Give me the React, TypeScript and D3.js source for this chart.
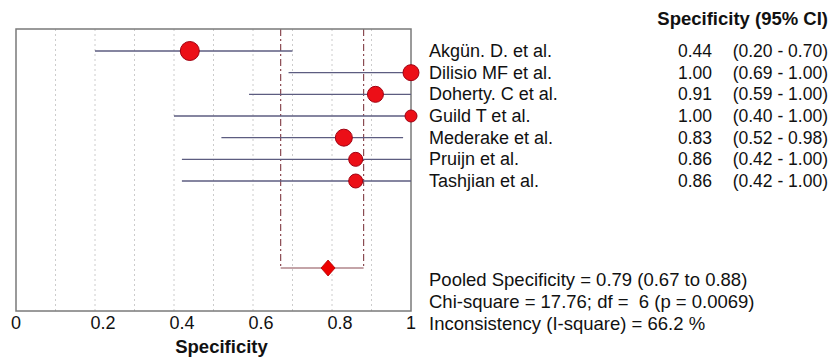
import React from 'react'
import * as d3 from 'd3'

const studies = ['Akgün. D. et al.', 'Dilisio MF et al.', 'Doherty. C et al.', 'Guild T et al.', 'Mederake et al.', 'Pruijn et al.', 'Tashjian et al.']
const estimates = [0.44, 1.0, 0.91, 1.0, 0.83, 0.86, 0.86]
const lowerCI = [0.2, 0.69, 0.59, 0.4, 0.52, 0.42, 0.42]
const upperCI = [0.7, 1.0, 1.0, 1.0, 0.98, 1.0, 1.0]
// marker size roughly tracks study weight
const weights = [9.5, 8, 8, 6, 8.5, 7, 7]
const pooled = { est: 0.79, lo: 0.67, hi: 0.88 }
const statLines = [
  'Pooled Specificity = 0.79 (0.67 to 0.88)',
  'Chi-square = 17.76; df =  6 (p = 0.0069)',
  'Inconsistency (I-square) = 66.2 %',
]
const tickValues = [0, 0.2, 0.4, 0.6, 0.8, 1]

const W = 834
const H = 359
const margin = { left: 16, top: 29, right: 423, bottom: 48 }
const font = 'Arial, "Liberation Sans", sans-serif'

export default function App() {
  const x = d3.scaleLinear().domain([0, 1]).range([margin.left, W - margin.right])
  const y = d3.scaleLinear().domain([0, studies.length - 1]).range([51, 181])
  const plotBottom = H - margin.bottom
  const pooledY = 268
  const statY = d3.scaleLinear().domain([0, 2]).range([285.5, 329.5])
  const grid = d3.range(1, 10).map(d => d / 10)
  const fmt = d3.format('.2f')
  const textX = 429
  const fs = 18

  return (
    <svg width={W} height={H} style={{ position: 'absolute', left: 0, top: 0, background: '#fff' }} fontFamily={font}>
      {grid.map(g => (
        <line key={g} x1={x(g)} x2={x(g)} y1={margin.top} y2={plotBottom}
          stroke="#cccccc" strokeWidth={1} strokeDasharray="2,3" />
      ))}

      {/* pooled CI bracket */}
      {[pooled.lo, pooled.hi].map(v => (
        <line key={v} x1={x(v)} x2={x(v)} y1={margin.top} y2={pooledY}
          stroke="#8a4a52" strokeWidth={1.2} strokeDasharray="7,3,2,3" />
      ))}
      <line x1={x(pooled.lo)} x2={x(pooled.hi)} y1={pooledY} y2={pooledY} stroke="#8a4a52" strokeWidth={1.2} />
      <path d={`M${x(pooled.est) - 7},${pooledY} L${x(pooled.est)},${pooledY - 8} L${x(pooled.est) + 7},${pooledY} L${x(pooled.est)},${pooledY + 8} Z`}
        fill="#ee0000" stroke="#b00000" strokeWidth={0.8} />

      <rect x={margin.left} y={margin.top} width={x(1) - x(0)} height={plotBottom - margin.top}
        fill="none" stroke="#7a7a7a" strokeWidth={1.5} />

      {studies.map((s, i) => (
        <g key={s}>
          <line x1={x(lowerCI[i])} x2={x(upperCI[i])} y1={y(i)} y2={y(i)} stroke="#5c5c80" strokeWidth={1.3} />
          <circle cx={x(estimates[i])} cy={y(i)} r={weights[i]} fill="#ec0f17" stroke="#a00010" strokeWidth={1} />
          <text x={textX} y={y(i) + 6} fontSize={fs} fill="#111">{s}</text>
          <text x={712} y={y(i) + 6} fontSize={17.5} fill="#111" textAnchor="end">{fmt(estimates[i])}</text>
          <text x={828} y={y(i) + 6} fontSize={17.5} fill="#111" textAnchor="end">{`(${fmt(lowerCI[i])} - ${fmt(upperCI[i])})`}</text>
        </g>
      ))}

      <text x={828} y={25} fontSize={18.5} fontWeight="bold" textAnchor="end" fill="#111">Specificity (95% CI)</text>

      {statLines.map((t, i) => (
        <text key={i} x={textX} y={statY(i)} fontSize={18.5} fill="#111" style={{ whiteSpace: 'pre' }}>{t}</text>
      ))}

      {tickValues.map(v => (
        <text key={v} x={x(v) + (v > 0 && v < 1 ? 8 : 0)} y={329} fontSize={fs} textAnchor="middle" fill="#111">{v}</text>
      ))}
      <text x={(x(0) + x(1)) / 2 + 8} y={353} fontSize={18.5} fontWeight="bold" textAnchor="middle" fill="#111">Specificity</text>
    </svg>
  )
}
